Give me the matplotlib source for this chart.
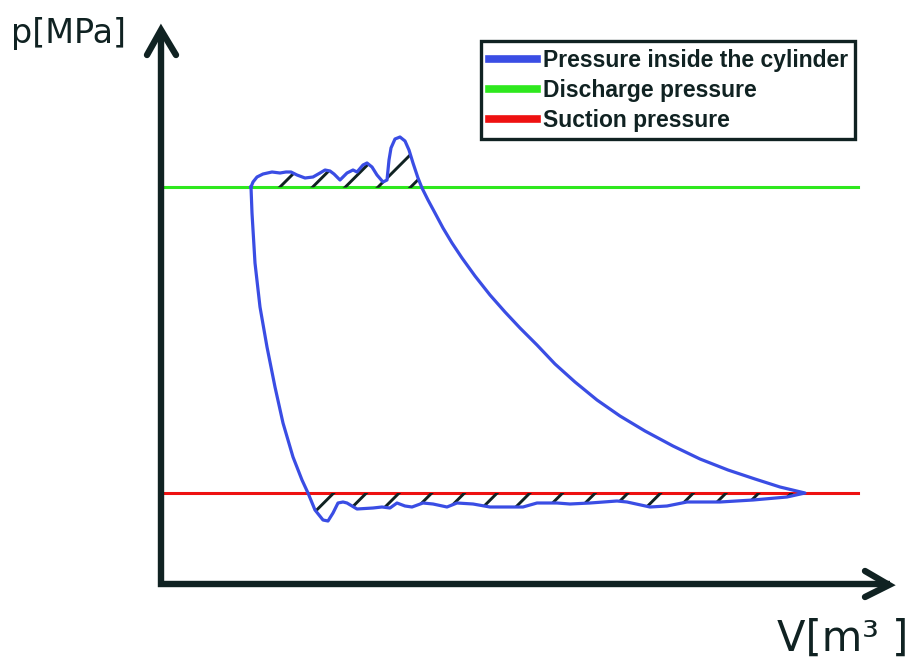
import matplotlib
matplotlib.use("Agg")
import matplotlib.pyplot as plt
import numpy as np
from matplotlib.lines import Line2D
from matplotlib.collections import LineCollection

# Data (schematic p-V loop, arbitrary units)
# top wave (discharge) -> expansion -> bottom wave (suction, right to left) -> compression
top_V = [91, 93, 97, 103, 112, 120, 126, 131, 137, 145, 153, 160, 165, 170, 174, 180,
         187, 193, 197, 203, 207, 212, 217, 223, 227, 229, 231, 235, 240, 245, 249, 253,
         258, 262]
top_p = [396, 401, 406, 409, 411, 410, 411, 411, 408, 405, 406, 410, 413, 412, 409, 403,
         410, 413, 411, 418, 420, 416, 408, 401, 403, 423, 435, 444, 446, 442, 433, 420,
         405, 395]
exp_V = [268, 275, 283, 292, 302, 315, 330, 345, 360, 377, 395, 415, 437, 460, 485, 513,
         540, 568, 595, 620, 645]
exp_p = [383, 370, 355, 340, 325, 307, 288, 271, 255, 238, 219, 201, 183, 167, 152, 137,
         124, 113, 104, 96, 90]
bot_V = [627, 593, 560, 527, 507, 490, 467, 457, 430, 410, 397, 377, 363, 347, 330, 313,
         297, 287, 273, 263, 252, 245, 237, 230, 222, 213, 197, 187, 183, 178, 173, 168,
         163, 155, 148]
bot_p = [86, 83, 81, 81, 77, 76, 81, 82, 80, 79, 80, 80, 76, 76, 76, 79,
         80, 76, 79, 80, 76, 77, 80, 75, 76, 75, 74, 80, 81, 80, 70, 62,
         63, 73, 90]
comp_V = [142, 133, 123, 115, 107, 100, 95, 92, 91]
comp_p = [103, 126, 160, 196, 236, 276, 320, 370, 396]

discharge_p = 396
suction_p = 90
line_V = [5, 698]

labels = ["Pressure inside the cylinder", "Discharge pressure", "Suction pressure"]
colors = ["#3a4de4", "#2ee81e", "#ee1111"]
dark = "#102222"

fig = plt.figure(figsize=(9.11, 6.66), dpi=100)
ax = fig.add_axes([0, 0, 1, 1])
ax.set_xlim(-160, 751)
ax.set_ylim(-83, 583)
ax.axis("off")

# reference pressures
ax.plot(line_V, [discharge_p] * 2, color=colors[1], lw=2.2, zorder=2)
ax.plot(line_V, [suction_p] * 2, color=colors[2], lw=2.2, zorder=2)

# hatched areas between the loop and the valve pressures
regions = [
    (top_V + [top_V[0]], top_p + [discharge_p]),
    ([exp_V[-1]] + bot_V, [suction_p] + bot_p),
]
offsets = np.arange(-276, 700, 32.7)
segs = [[(d - 50, -50), (d + 700, 700)] for d in offsets]
for rv, rp in regions:
    patch = ax.fill(rv, rp, facecolor="none", edgecolor="none")[0]
    lc = LineCollection(segs, colors=dark, linewidths=2.1, zorder=3)
    ax.add_collection(lc)
    lc.set_clip_path(patch)

# cylinder pressure loop
loop_V = top_V + exp_V + bot_V + comp_V
loop_p = top_p + exp_p + bot_p + comp_p
ax.plot(loop_V, loop_p, color=colors[0], lw=2.3, zorder=4, solid_joinstyle="round")

# axes arrows
ax.plot([1, 1, 730], [552, -1, -1], color=dark, lw=4.6, solid_joinstyle="miter",
        solid_capstyle="butt", zorder=5)
ax.plot([-13, 1, 16], [528, 553, 528], color=dark, lw=4.6, solid_capstyle="round",
        solid_joinstyle="miter", zorder=5)
ax.plot([705, 729, 705], [12, -2, -14], color=dark, lw=4.6, solid_capstyle="round",
        solid_joinstyle="miter", zorder=5)

ax.text(-149, 550, "p[MPa]", fontsize=24, color=dark, va="center", ha="left")
ax.text(748, -56, "V[m³ ]", fontsize=30, color=dark, va="center", ha="right")

handles = [Line2D([], [], color=c, lw=5.5) for c in colors]
leg = fig.legend(handles, labels, loc="upper left", bbox_to_anchor=(481 / 911, 1 - 41 / 666),
                 prop=dict(family="Liberation Sans", weight="bold", size=16.5),
                 frameon=True, fancybox=False, framealpha=1,
                 edgecolor=dark, borderpad=0.33, handlelength=2.1, handletextpad=0.26,
                 labelspacing=0.31, borderaxespad=0)
leg.get_frame().set_linewidth(2.4)
for t in leg.get_texts():
    t.set_color(dark)

fig.savefig("out.png", dpi=100, facecolor="white")
